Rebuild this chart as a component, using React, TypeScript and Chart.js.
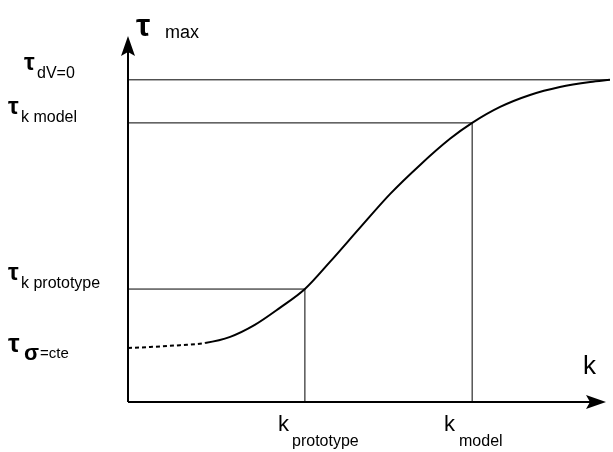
import React, { useEffect, useRef } from "react";
import { Chart, registerables, type Plugin } from "chart.js";

Chart.register(...registerables);

// curve in axis units (x 0..100, y 0..100)
const curveX = [0, 4.6, 10.8, 16, 21.2, 26.3, 31.5, 36.7, 41.9, 48.1, 54.4, 60.6, 66.8, 71.4, 77.2, 83.4, 89.6, 95.9, 100];
const curveY = [14.9, 15.2, 15.7, 16.3, 18, 21.3, 26, 31.2, 38.7, 48.1, 57.5, 65.5, 72.7, 77.1, 81.5, 84.8, 87, 88.4, 89];
const dashedUntil = 3;

const kPrototype = 36.7;
const kModel = 71.4;
const tauZero = 89;
const tauModel = 77.1;
const tauPrototype = 31.2;
const tauSigma = 14.9;

const FONT = "'Liberation Sans', Arial, sans-serif";

const drawing: Plugin = {
  id: "drawing",
  afterDatasetsDraw(chart) {
    const ctx = chart.ctx;
    const xs = chart.scales.x;
    const ys = chart.scales.y;
    const x0 = xs.getPixelForValue(0);
    const y0 = ys.getPixelForValue(0);
    ctx.save();
    ctx.strokeStyle = "#000";
    ctx.fillStyle = "#000";
    ctx.lineWidth = 1;
    const line = (a: number, b: number, c: number, d: number) => {
      ctx.beginPath();
      ctx.moveTo(a, b);
      ctx.lineTo(c, d);
      ctx.stroke();
    };
    // guide lines
    line(x0, ys.getPixelForValue(tauZero), xs.getPixelForValue(100), ys.getPixelForValue(tauZero));
    line(x0, ys.getPixelForValue(tauModel), xs.getPixelForValue(kModel), ys.getPixelForValue(tauModel));
    line(x0, ys.getPixelForValue(tauPrototype), xs.getPixelForValue(kPrototype), ys.getPixelForValue(tauPrototype));
    line(xs.getPixelForValue(kPrototype), y0, xs.getPixelForValue(kPrototype), ys.getPixelForValue(tauPrototype));
    line(xs.getPixelForValue(kModel), y0, xs.getPixelForValue(kModel), ys.getPixelForValue(tauModel));
    // axes
    ctx.lineWidth = 2;
    line(x0, y0, x0, 50);
    line(x0, y0, 592, y0);
    ctx.beginPath();
    ctx.moveTo(x0, 36);
    ctx.lineTo(x0 - 7, 56);
    ctx.lineTo(x0, 52);
    ctx.lineTo(x0 + 7, 56);
    ctx.closePath();
    ctx.fill();
    ctx.beginPath();
    ctx.moveTo(606, y0);
    ctx.lineTo(586, y0 - 7);
    ctx.lineTo(590, y0);
    ctx.lineTo(586, y0 + 7);
    ctx.closePath();
    ctx.fill();
    // labels
    ctx.textBaseline = "alphabetic";
    const tau = (x: number, y: number, sub: string, subDy: number) => {
      ctx.font = `bold 24px ${FONT}`;
      ctx.fillText("τ", x, y);
      ctx.font = `16px ${FONT}`;
      ctx.fillText(sub, x + 13, y + subDy);
    };
    ctx.font = `bold 32px ${FONT}`;
    ctx.fillText("τ", 136, 36);
    ctx.font = `18px ${FONT}`;
    ctx.fillText("max", 165, 38);
    tau(24, 70, "dV=0", 8);
    tau(8, 114, "k model", 8);
    tau(8, 280, "k prototype", 8);
    ctx.font = `bold 26px ${FONT}`;
    ctx.fillText("τ", 8, 352);
    ctx.font = `bold 22px ${FONT}`;
    ctx.fillText("σ", 24, 360);
    ctx.font = `15px ${FONT}`;
    ctx.fillText("=cte", 40, 358);
    ctx.font = `26px ${FONT}`;
    ctx.fillText("k", 583, 374);
    ctx.font = `22px ${FONT}`;
    ctx.fillText("k", 278, 431);
    ctx.fillText("k", 444, 431);
    ctx.font = `16px ${FONT}`;
    ctx.fillText("prototype", 292, 446);
    ctx.fillText("model", 459, 446);
    ctx.restore();
  },
};

export default function App() {
  const ref = useRef<HTMLCanvasElement | null>(null);

  useEffect(() => {
    document.body.style.margin = "0";
    if (!ref.current) return;
    const chart = new Chart(ref.current, {
      type: "line",
      data: {
        datasets: [
          {
            data: curveX.map((x, i) => ({ x, y: curveY[i] })),
            borderColor: "#000",
            borderWidth: 2,
            pointRadius: 0,
            tension: 0.4,
            cubicInterpolationMode: "monotone",
            segment: {
              borderDash: (c: any) => (c.p1DataIndex <= dashedUntil ? [4, 3] : undefined),
            },
          },
        ],
      },
      options: {
        animation: false,
        responsive: false,
        layout: { padding: { left: 128, top: 40, right: 3, bottom: 50 } },
        plugins: { legend: { display: false }, tooltip: { enabled: false } },
        scales: {
          x: { type: "linear", min: 0, max: 100, display: false },
          y: { type: "linear", min: 0, max: 100, display: false },
        },
      },
      plugins: [drawing],
    });
    return () => chart.destroy();
  }, []);

  return <canvas ref={ref} width={613} height={452} style={{ display: "block", background: "#fff" }} />;
}
